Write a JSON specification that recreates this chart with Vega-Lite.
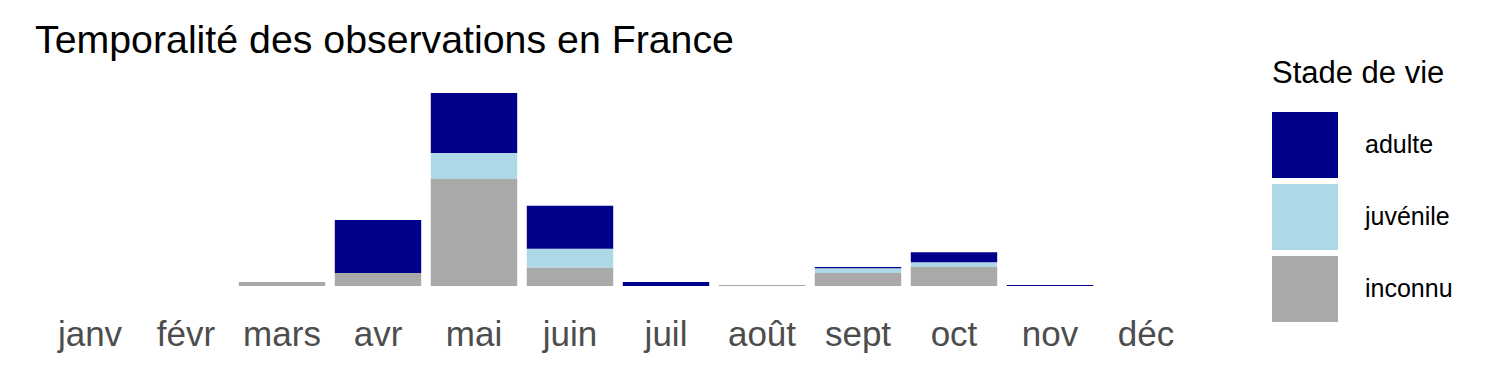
{
  "$schema": "https://vega.github.io/schema/vega-lite/v6.json",
  "autosize": "none",
  "width": 1152,
  "height": 206,
  "padding": {"left": 42, "top": 80, "right": 306, "bottom": 89},
  "background": "white",
  "title": {
    "text": "Temporalité des observations en France",
    "anchor": "start",
    "font": "Liberation Sans",
    "fontSize": 39.3,
    "fontWeight": "normal",
    "color": "black",
    "offset": -2,
    "dx": -7
  },
  "data": {
    "values": [
      {"mois": "mars", "stade": "inconnu", "ordre": 1, "n": 4},
      {"mois": "avr", "stade": "inconnu", "ordre": 1, "n": 13},
      {"mois": "avr", "stade": "adulte", "ordre": 3, "n": 53},
      {"mois": "mai", "stade": "inconnu", "ordre": 1, "n": 107},
      {"mois": "mai", "stade": "juvénile", "ordre": 2, "n": 26},
      {"mois": "mai", "stade": "adulte", "ordre": 3, "n": 60},
      {"mois": "juin", "stade": "inconnu", "ordre": 1, "n": 18.5},
      {"mois": "juin", "stade": "juvénile", "ordre": 2, "n": 18.7},
      {"mois": "juin", "stade": "adulte", "ordre": 3, "n": 43},
      {"mois": "juil", "stade": "adulte", "ordre": 3, "n": 4},
      {"mois": "août", "stade": "inconnu", "ordre": 1, "n": 1},
      {"mois": "sept", "stade": "inconnu", "ordre": 1, "n": 13},
      {"mois": "sept", "stade": "juvénile", "ordre": 2, "n": 4.7},
      {"mois": "sept", "stade": "adulte", "ordre": 3, "n": 1.3},
      {"mois": "oct", "stade": "inconnu", "ordre": 1, "n": 19},
      {"mois": "oct", "stade": "juvénile", "ordre": 2, "n": 4.7},
      {"mois": "oct", "stade": "adulte", "ordre": 3, "n": 10},
      {"mois": "nov", "stade": "adulte", "ordre": 3, "n": 1}
    ]
  },
  "mark": {"type": "bar", "strokeWidth": 0},
  "encoding": {
    "x": {
      "field": "mois",
      "type": "nominal",
      "scale": {
        "domain": ["janv", "févr", "mars", "avr", "mai", "juin", "juil", "août", "sept", "oct", "nov", "déc"],
        "paddingInner": 0.1,
        "paddingOuter": 0.05
      },
      "axis": {
        "title": null,
        "domain": false,
        "ticks": false,
        "tickSize": 0,
        "grid": false,
        "labelAngle": 0,
        "labelFont": "Liberation Sans",
        "labelFontSize": 35,
        "labelColor": "#4d4d4d",
        "labelBaseline": "alphabetic",
        "labelPadding": 59
      }
    },
    "y": {
      "field": "n",
      "type": "quantitative",
      "stack": "zero",
      "scale": {"domain": [0, 206], "nice": false},
      "axis": null
    },
    "order": {"field": "ordre", "type": "quantitative", "sort": "ascending"},
    "color": {
      "field": "stade",
      "type": "nominal",
      "scale": {
        "domain": ["adulte", "juvénile", "inconnu"],
        "range": ["#00008B", "#ADD8E6", "#A9A9A9"]
      },
      "legend": {
        "title": "Stade de vie",
        "orient": "none",
        "legendX": 1230,
        "legendY": -21,
        "titleFont": "Liberation Sans",
        "titleFontSize": 31,
        "titleFontWeight": "normal",
        "titleColor": "black",
        "titlePadding": 22,
        "labelFont": "Liberation Sans",
        "labelFontSize": 25,
        "labelColor": "black",
        "labelOffset": 27,
        "symbolType": "square",
        "symbolSize": 4356,
        "symbolStrokeWidth": 0,
        "symbolOpacity": 1,
        "rowPadding": 6
      }
    }
  },
  "config": {"view": {"stroke": null}}
}
